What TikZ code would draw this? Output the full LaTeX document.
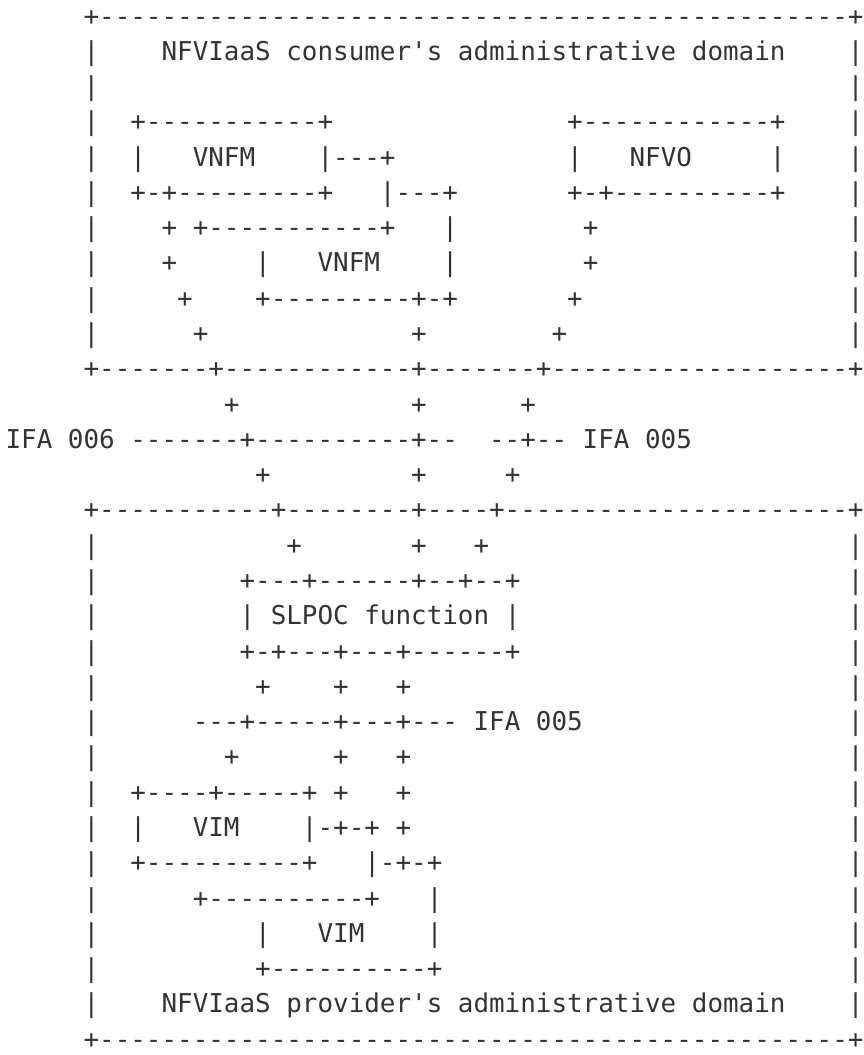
\documentclass[tikz,border=0pt]{standalone}
\usepackage{fontspec}
\newfontfamily\asc{DejaVu Sans Mono}[Ligatures=TeXOff]
\definecolor{ink}{HTML}{333333}
\newdimen\cw \cw=15.6pt
\newcommand\gap[1]{\hspace*{#1\cw}}
\newcommand\hy[1]{\ifnum#1>0 -\expandafter\hy\expandafter{\the\numexpr#1-1\relax}\fi}
\tikzset{asc/.style={anchor=base west, inner sep=0pt, outer sep=0pt,
  font=\asc\fontsize{25.91pt}{35.3pt}\selectfont, text=ink}}
\newcommand\row[3]{\node[asc] (#1) at (5.6,{16.7+(#2-1)*35.28+8.3}) {#3};}
\begin{document}
\begin{tikzpicture}[x=1pt,y=-1pt]
\useasboundingbox (0,0) rectangle (864,1055);
\row{r1}{1}{\gap{5}+\hy{48}+}
\row{r2}{2}{\gap{5}|\gap{4}NFVIaaS consumer's administrative domain\gap{4}|}
\row{r3}{3}{\gap{5}|\gap{48}|}
\row{r4}{4}{\gap{5}|\gap{2}+\hy{11}+\gap{15}+\hy{12}+\gap{4}|}
\row{r5}{5}{\gap{5}|\gap{2}|\gap{3}VNFM\gap{4}|\hy{3}+\gap{11}|\gap{3}NFVO\gap{5}|\gap{4}|}
\row{r6}{6}{\gap{5}|\gap{2}+-+\hy{9}+\gap{3}|\hy{3}+\gap{7}+-+\hy{10}+\gap{4}|}
\row{r7}{7}{\gap{5}|\gap{4}+\gap{1}+\hy{11}+\gap{3}|\gap{8}+\gap{16}|}
\row{r8}{8}{\gap{5}|\gap{4}+\gap{5}|\gap{3}VNFM\gap{4}|\gap{8}+\gap{16}|}
\row{r9}{9}{\gap{5}|\gap{5}+\gap{4}+\hy{9}+-+\gap{7}+\gap{17}|}
\row{r10}{10}{\gap{5}|\gap{6}+\gap{13}+\gap{8}+\gap{18}|}
\row{r11}{11}{\gap{5}+\hy{7}+\hy{12}+\hy{7}+\hy{19}+}
\row{r12}{12}{\gap{14}+\gap{11}+\gap{6}+}
\row{r13}{13}{IFA\gap{1}006\gap{1}\hy{7}+\hy{10}+\hy{2}\gap{2}\hy{2}+\hy{2}\gap{1}IFA\gap{1}005}
\row{r14}{14}{\gap{16}+\gap{9}+\gap{5}+}
\row{r15}{15}{\gap{5}+\hy{11}+\hy{8}+\hy{4}+\hy{22}+}
\row{r16}{16}{\gap{5}|\gap{12}+\gap{7}+\gap{3}+\gap{23}|}
\row{r17}{17}{\gap{5}|\gap{9}+\hy{3}+\hy{6}+\hy{2}+\hy{2}+\gap{21}|}
\row{r18}{18}{\gap{5}|\gap{9}|\gap{1}SLPOC\gap{1}function\gap{1}|\gap{21}|}
\row{r19}{19}{\gap{5}|\gap{9}+-+\hy{3}+\hy{3}+\hy{6}+\gap{21}|}
\row{r20}{20}{\gap{5}|\gap{10}+\gap{4}+\gap{3}+\gap{28}|}
\row{r21}{21}{\gap{5}|\gap{6}\hy{3}+\hy{5}+\hy{3}+\hy{3}\gap{1}IFA\gap{1}005\gap{17}|}
\row{r22}{22}{\gap{5}|\gap{8}+\gap{6}+\gap{3}+\gap{28}|}
\row{r23}{23}{\gap{5}|\gap{2}+\hy{4}+\hy{5}+\gap{1}+\gap{3}+\gap{28}|}
\row{r24}{24}{\gap{5}|\gap{2}|\gap{3}VIM\gap{4}|-+-+\gap{1}+\gap{28}|}
\row{r25}{25}{\gap{5}|\gap{2}+\hy{10}+\gap{3}|-+-+\gap{26}|}
\row{r26}{26}{\gap{5}|\gap{6}+\hy{10}+\gap{3}|\gap{26}|}
\row{r27}{27}{\gap{5}|\gap{10}|\gap{3}VIM\gap{4}|\gap{26}|}
\row{r28}{28}{\gap{5}|\gap{10}+\hy{10}+\gap{26}|}
\row{r29}{29}{\gap{5}|\gap{4}NFVIaaS provider's administrative domain\gap{4}|}
\row{r30}{30}{\gap{5}+\hy{48}+}
\end{tikzpicture}
\end{document}
